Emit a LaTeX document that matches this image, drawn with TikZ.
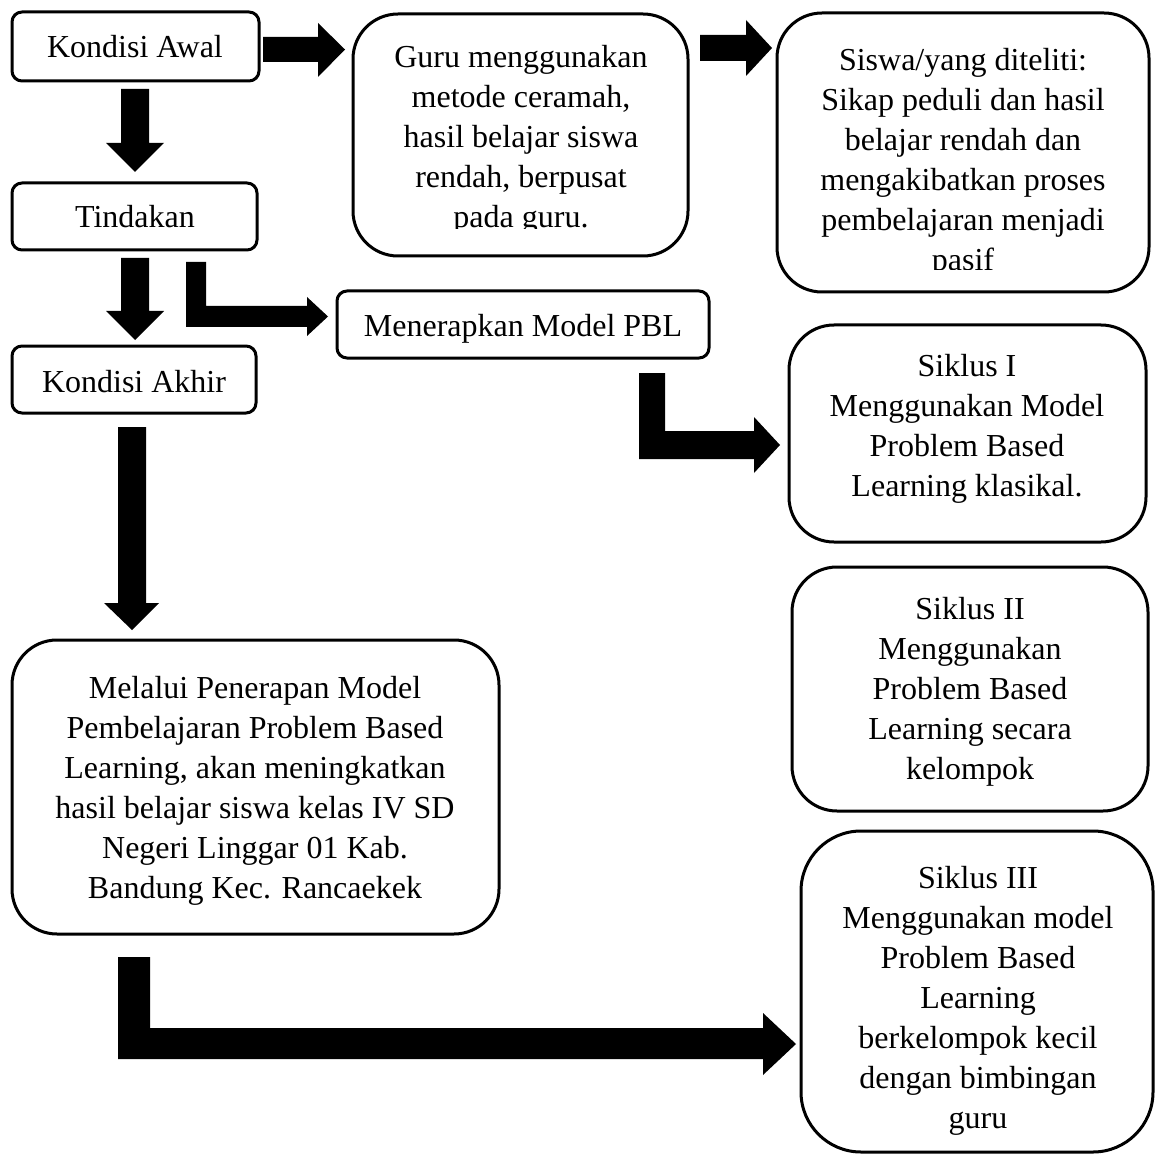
\documentclass[tikz,border=0pt]{standalone}
\usepackage{fontspec}
\setmainfont{Liberation Serif}
\usetikzlibrary{fit}
\begin{document}
\begin{tikzpicture}[x=1pt,y=-1pt,
  rbox/.style={draw=black, line width=3pt, rounded corners=#1, inner sep=0pt, fill=none},
  txt/.style={align=center, inner sep=0pt, font=\fontsize{32}{40}\selectfont,
    execute at begin node=\strut, execute at end node=\strut},
  blk/.style={fill=black}]
\useasboundingbox (0,0) rectangle (1161,1155);
% boxes
\node[rbox=10pt, fit={(12,12) (259,81)}] (ka) {};
\node[rbox=10pt, fit={(12,183) (257,250)}] (tin) {};
\node[rbox=10pt, fit={(12,346) (256,413)}] (kak) {};
\node[rbox=45pt, fit={(353,14) (688,256)}] (guru) {};
\node[rbox=45pt, fit={(777,13) (1149,292)}] (siswa) {};
\node[rbox=10pt, fit={(337,291) (709,358)}] (pbl) {};
\node[rbox=45pt, fit={(789,325) (1146,542)}] (s1) {};
\node[rbox=45pt, fit={(792,567) (1148,811)}] (s2) {};
\node[rbox=60pt, fit={(801,831) (1153,1152)}] (s3) {};
\node[rbox=45pt, fit={(12,640) (499,934)}] (mel) {};
% texts
\node[txt] (ka-t) at (135,50) {Kondisi Awal};
\node[txt] (tin-t) at (135,220) {Tindakan};
\node[txt] (kak-t) at (134,384) {Kondisi Akhir};
\node[txt] (pbl-t) at (523,328) {Menerapkan Model PBL};
\begin{scope}
\clip (353,14) rectangle (688,229);
\node[txt] (guru-t) at (521,142.5) {Guru menggunakan\\metode ceramah,\\hasil belajar siswa\\rendah, berpusat\\pada guru.};
\end{scope}
\begin{scope}
\clip (777,13) rectangle (1149,270);
\node[txt] (siswa-t) at (963,165) {Siswa/yang diteliti:\\Sikap peduli dan hasil\\belajar rendah dan\\mengakibatkan proses\\pembelajaran menjadi\\pasif};
\end{scope}
\node[txt] (s1-t) at (967,431) {Siklus I\\Menggunakan Model\\Problem Based\\Learning klasikal.};
\node[txt] (s2-t) at (970,694) {Siklus II\\Menggunakan\\Problem Based\\Learning secara\\kelompok};
\node[txt] (s3-t) at (978,1003) {Siklus III\\Menggunakan model\\Problem Based\\Learning\\berkelompok kecil\\dengan bimbingan\\guru};
\node[txt] (mel-t) at (255,793) {Melalui Penerapan Model\\Pembelajaran Problem Based\\Learning, akan meningkatkan\\hasil belajar siswa kelas IV SD\\Negeri Linggar 01 Kab.\\Bandung Kec. Rancaekek};
% block arrows
\fill[blk] (263,37) -- (318,37) -- (318,23) -- (345,49.5) -- (318,77) -- (318,62) -- (263,62) -- cycle;
\fill[blk] (700,35) -- (746,35) -- (746,20) -- (772,48) -- (746,76) -- (746,61) -- (700,61) -- cycle;
\fill[blk] (121,89) -- (149,89) -- (149,143) -- (164,143) -- (135,172) -- (106,143) -- (121,143) -- cycle;
\fill[blk] (121,258) -- (149,258) -- (149,311) -- (164,311) -- (135,340) -- (106,311) -- (121,311) -- cycle;
\fill[blk] (118,427) -- (146,427) -- (146,603) -- (159,603) -- (132,630) -- (104,603) -- (118,603) -- cycle;
\fill[blk] (186,262) -- (206,262) -- (206,306) -- (307,306) -- (307,297) -- (328,316.5) -- (307,336) -- (307,327) -- (186,327) -- cycle;
\fill[blk] (639,373) -- (665,373) -- (665,431) -- (754,431) -- (754,417) -- (780,445) -- (754,473) -- (754,459) -- (639,459) -- cycle;
\fill[blk] (118,957) -- (150,957) -- (150,1028) -- (763,1028) -- (763,1013) -- (796,1044) -- (763,1075) -- (763,1059) -- (118,1059) -- cycle;
\end{tikzpicture}
\end{document}
